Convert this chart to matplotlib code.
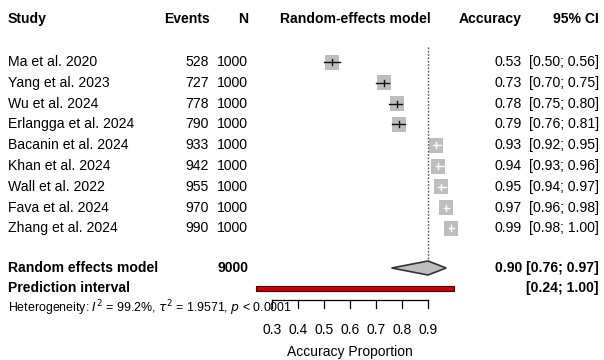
import numpy as np
import matplotlib.pyplot as plt
from matplotlib.patches import Rectangle, Polygon
from matplotlib import transforms

plt.rcParams['font.family'] = ['Liberation Sans', 'DejaVu Sans']

# datos de los estudios
studies = ['Ma et al. 2020', 'Yang et al. 2023', 'Wu et al. 2024', 'Erlangga et al. 2024',
           'Bacanin et al. 2024', 'Khan et al. 2024', 'Wall et al. 2022', 'Fava et al. 2024',
           'Zhang et al. 2024']
events = [528, 727, 778, 790, 933, 942, 955, 970, 990]
totals = [1000, 1000, 1000, 1000, 1000, 1000, 1000, 1000, 1000]
acc = [0.53, 0.73, 0.78, 0.79, 0.93, 0.94, 0.95, 0.97, 0.99]
lower = [0.50, 0.70, 0.75, 0.76, 0.92, 0.93, 0.94, 0.96, 0.98]
upper = [0.56, 0.75, 0.80, 0.81, 0.95, 0.96, 0.97, 0.98, 1.00]

pooled, pooled_lo, pooled_hi = 0.90, 0.76, 0.97
pred_lo, pred_hi = 0.24, 1.00
total_n = 9000
ticks = [0.3, 0.4, 0.5, 0.6, 0.7, 0.8, 0.9]

W, H = 604, 360
fig = plt.figure(figsize=(W / 100, H / 100), dpi=100)
ax = fig.add_axes([0, 0, 1, 1])
# escala lineal: 260 px por unidad, 0.3 en x=272 px
ppu = 260.0
xmin = 0.3 - 272 / ppu
xmax = 0.3 + (W - 272) / ppu
ax.set_xlim(xmin, xmax)
ax.set_ylim(H, 0)
ax.axis('off')

tr = transforms.blended_transform_factory(ax.transAxes, ax.transData)
fs = 10.1

def col(px):
    return px / W

# encabezados
hy = 19
ax.text(col(8), hy, 'Study', transform=tr, fontsize=fs, fontweight='bold', va='center')
ax.text(col(210), hy, 'Events', transform=tr, fontsize=fs, fontweight='bold', va='center', ha='right')
ax.text(col(248), hy, 'N', transform=tr, fontsize=fs, fontweight='bold', va='center', ha='right')
ax.text((pred_lo + pred_hi) / 2, hy, 'Random-effects model', fontsize=fs, fontweight='bold',
        va='center', ha='center')
ax.text(col(522), hy, 'Accuracy', transform=tr, fontsize=fs, fontweight='bold', va='center', ha='right')
ax.text(col(599), hy, '95% CI', transform=tr, fontsize=fs, fontweight='bold', va='center', ha='right')

# filas de estudios
y0, dy = 62, 20.8
sqw, sqh = 14, 15  # cuadrado en px
for i in range(len(studies)):
    y = y0 + i * dy
    ax.text(col(8), y, studies[i], transform=tr, fontsize=fs, va='center')
    ax.text(col(209), y, str(events[i]), transform=tr, fontsize=fs, va='center', ha='right')
    ax.text(col(248), y, str(totals[i]), transform=tr, fontsize=fs, va='center', ha='right')
    ax.text(col(522), y, '%.2f' % acc[i], transform=tr, fontsize=fs, va='center', ha='right')
    ax.text(col(599), y, '[%.2f; %.2f]' % (lower[i], upper[i]), transform=tr, fontsize=fs,
            va='center', ha='right')
    w = sqw / ppu
    ax.add_patch(Rectangle((acc[i] - w / 2, y - sqh / 2), w, sqh, facecolor='#bebebe',
                           edgecolor='none', zorder=2))
    # linea blanca si el IC cabe dentro del cuadrado
    inside = (upper[i] - lower[i]) * ppu < sqw * 0.8
    lc = 'white' if inside else '#111111'
    ax.plot([lower[i], upper[i]], [y, y], color=lc, lw=1, zorder=3)
    ax.plot([acc[i], acc[i]], [y - 3, y + 3], color=lc, lw=1, zorder=3)

# linea del efecto combinado
ry = 268
ax.vlines(pooled, 47, ry - 7, colors='#555555', linestyles=(0, (1.2, 1.2)), lw=1)

ax.text(col(8), ry, 'Random effects model', transform=tr, fontsize=fs, fontweight='bold', va='center')
ax.text(col(248), ry, str(total_n), transform=tr, fontsize=fs, fontweight='bold', va='center', ha='right')
ax.text(col(599), ry, '%.2f [%.2f; %.2f]' % (pooled, pooled_lo, pooled_hi), transform=tr,
        fontsize=fs, fontweight='bold', va='center', ha='right')
diamond = Polygon([(pooled_lo, ry), (pooled, ry - 7), (pooled_hi, ry), (pooled, ry + 7)],
                  closed=True, facecolor='#bebebe', edgecolor='#333333', lw=1.2, zorder=3)
ax.add_patch(diamond)

# intervalo de prediccion
py = 288
ax.text(col(8), py, 'Prediction interval', transform=tr, fontsize=fs, fontweight='bold', va='center')
ax.text(col(599), py, '[%.2f; %.2f]' % (pred_lo, pred_hi), transform=tr, fontsize=fs,
        fontweight='bold', va='center', ha='right')
ax.add_patch(Rectangle((pred_lo, py - 2.5), pred_hi - pred_lo, 5, facecolor='#d00000',
                       edgecolor='#400000', lw=0.8, zorder=3))

# heterogeneidad
ax.text(col(8), 308, r'Heterogeneity: $I^2$ = 99.2%, $\tau^2$ = 1.9571, $p$ < 0.0001',
        transform=tr, fontsize=8.9, va='center')

# eje x
axy = 300
ax.plot([ticks[0], ticks[-1]], [axy, axy], color='black', lw=0.9)
for t in ticks:
    ax.plot([t, t], [axy, axy + 8], color='black', lw=0.9)
    ax.text(t, 330, '%.1f' % t, fontsize=10, ha='center', va='center')
ax.text((ticks[0] + ticks[-1]) / 2, 352, 'Accuracy Proportion', fontsize=10, ha='center',
        va='center')

fig.savefig('out.png', dpi=100)
